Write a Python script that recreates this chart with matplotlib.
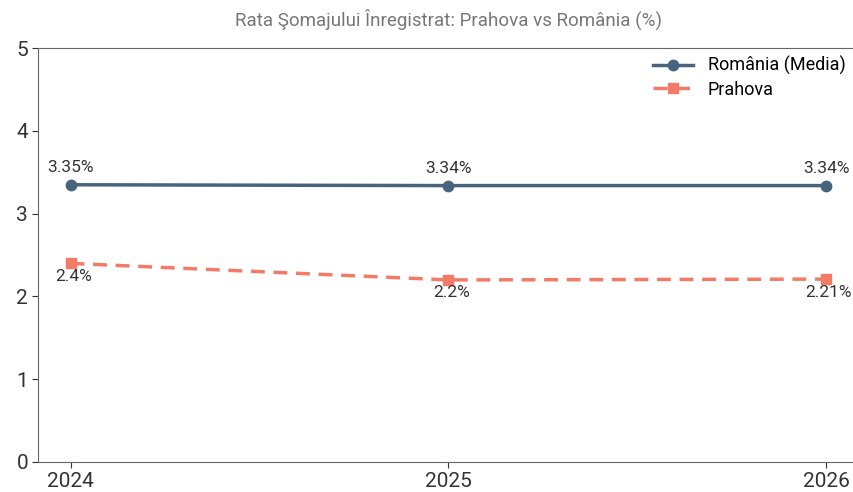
import matplotlib
matplotlib.use("Agg")
import matplotlib.pyplot as plt

plt.rcParams['font.family'] = ['Roboto', 'DejaVu Sans']

# DATA
years = [2024, 2025, 2026]
romania = [3.35, 3.34, 3.34]
prahova = [2.4, 2.2, 2.21]
romania_labels = ["3.35%", "3.34%", "3.34%"]
prahova_labels = ["2.4%", "2.2%", "2.21%"]

ROMANIA_COLOR = "#47647f"
PRAHOVA_COLOR = "#f47a68"

fig = plt.figure(figsize=(8.54, 4.92), dpi=100)
ax = fig.add_axes([0.045, 0.061, 0.96, 0.841])

ax.plot(years, romania, color=ROMANIA_COLOR, linewidth=2.5, marker='o',
        markersize=7.5, label="România (Media)")
ax.plot(years, prahova, color=PRAHOVA_COLOR, linewidth=2.5, linestyle='--',
        dashes=(4, 2.5), marker='s', markersize=7.5, label="Prahova")

for x, y, t in zip(years, romania, romania_labels):
    ax.annotate(t, (x, y), xytext=(0, 7), textcoords='offset points',
                ha='center', va='bottom', fontsize=12.5, color="#333333")
for x, y, t in zip(years, prahova, prahova_labels):
    ax.annotate(t, (x, y), xytext=(2, -4), textcoords='offset points',
                ha='center', va='top', fontsize=12.5, color="#333333")

ax.set_xlim(2023.915, 2026.085)
ax.set_ylim(0, 5)
ax.set_xticks(years)
ax.set_xticklabels([str(y) for y in years])
ax.set_yticks([0, 1, 2, 3, 4, 5])
ax.tick_params(labelsize=15, colors="#333333", length=4)
for s in ax.spines.values():
    s.set_color("#666666")

ax.set_title("Rata Şomajului Înregistrat: Prahova vs România (%)",
             fontsize=13.5, color="#777777", pad=16)

leg = ax.legend(loc='upper right', bbox_to_anchor=(1.004, 1.02), frameon=False,
                fontsize=13, handlelength=2.2, labelspacing=0.3)

fig.savefig("out.png", dpi=100)
